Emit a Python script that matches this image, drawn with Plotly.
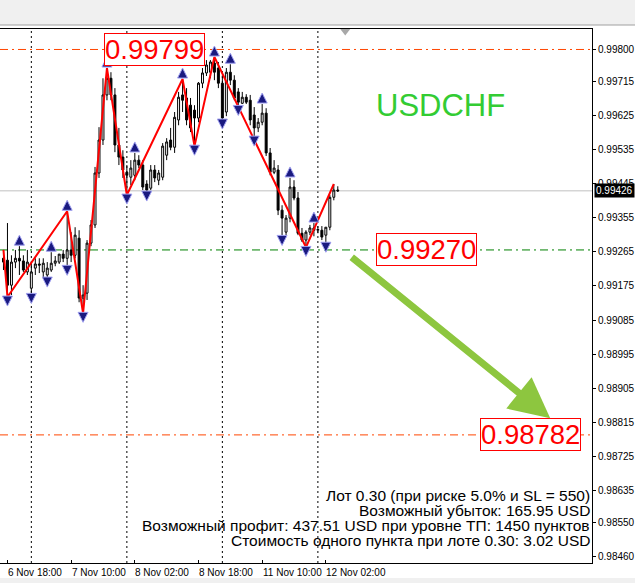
import plotly.graph_objects as go

# ---------------- data ----------------
bars = list(range(85))  # H1 bars from 6 Nov 17:00 to 12 Nov 05:00

open_ = [0.99248,0.99243,0.99177,0.99238,0.99248,0.99241,0.99212,0.99169,0.99222,0.99233,
         0.99212,0.99204,0.99217,0.99235,0.99238,0.99259,0.99248,0.99270,0.99256,0.99301,
         0.99143,0.99156,0.99288,0.99336,0.99473,0.99560,0.99679,0.99723,0.99679,0.99547,
         0.99515,0.99475,0.99462,0.99467,0.99507,0.99494,0.99444,0.99433,0.99481,0.99454,
         0.99462,0.99520,0.99560,0.99541,0.99613,0.99679,0.99671,0.99652,0.99639,0.99618,
         0.99710,0.99737,0.99739,0.99763,0.99750,0.99710,0.99634,0.99739,0.99718,0.99687,
         0.99657,0.99673,0.99665,0.99626,0.99592,0.99607,0.99631,0.99526,0.99475,0.99481,
         0.99375,0.99317,0.99354,0.99436,0.99407,0.99314,0.99296,0.99317,0.99328,0.99322,
         0.99322,0.99309,0.99330,0.99409,0.99428]
high = [0.99270,0.99341,0.99256,0.99270,0.99280,0.99256,0.99270,0.99238,0.99248,0.99248,
        0.99248,0.99238,0.99264,0.99254,0.99259,0.99270,0.99372,0.99317,0.99330,0.99322,
        0.99177,0.99296,0.99349,0.99489,0.99594,0.99723,0.99750,0.99739,0.99697,0.99592,
        0.99533,0.99494,0.99507,0.99526,0.99520,0.99507,0.99454,0.99494,0.99494,0.99481,
        0.99552,0.99565,0.99592,0.99634,0.99687,0.99721,0.99697,0.99671,0.99652,0.99713,
        0.99750,0.99771,0.99771,0.99779,0.99766,0.99731,0.99750,0.99760,0.99731,0.99697,
        0.99687,0.99681,0.99679,0.99647,0.99618,0.99655,0.99644,0.99539,0.99507,0.99494,
        0.99388,0.99362,0.99460,0.99454,0.99423,0.99328,0.99322,0.99336,0.99341,0.99333,
        0.99333,0.99330,0.99415,0.99444,0.99438]
low = [0.99217,0.99146,0.99151,0.99222,0.99204,0.99212,0.99204,0.99153,0.99204,0.99209,
       0.99198,0.99196,0.99212,0.99227,0.99233,0.99238,0.99227,0.99238,0.99248,0.99132,
       0.99103,0.99138,0.99280,0.99328,0.99460,0.99547,0.99665,0.99665,0.99528,0.99494,
       0.99460,0.99415,0.99441,0.99454,0.99486,0.99428,0.99423,0.99428,0.99449,0.99441,
       0.99454,0.99507,0.99533,0.99526,0.99599,0.99634,0.99599,0.99581,0.99544,0.99607,
       0.99697,0.99729,0.99723,0.99718,0.99697,0.99613,0.99623,0.99705,0.99665,0.99649,
       0.99655,0.99655,0.99599,0.99568,0.99581,0.99599,0.99518,0.99467,0.99470,0.99362,
       0.99306,0.99309,0.99343,0.99401,0.99309,0.99291,0.99277,0.99309,0.99306,0.99314,
       0.99296,0.99288,0.99322,0.99401,0.99423]
close = [0.99238,0.99177,0.99238,0.99248,0.99241,0.99217,0.99238,0.99212,0.99233,0.99230,
         0.99235,0.99222,0.99235,0.99241,0.99259,0.99248,0.99270,0.99256,0.99309,0.99143,
         0.99151,0.99288,0.99336,0.99473,0.99560,0.99679,0.99723,0.99679,0.99547,0.99515,
         0.99481,0.99467,0.99486,0.99507,0.99494,0.99436,0.99428,0.99481,0.99460,0.99473,
         0.99544,0.99555,0.99541,0.99620,0.99673,0.99665,0.99613,0.99592,0.99618,0.99710,
         0.99737,0.99758,0.99766,0.99739,0.99710,0.99618,0.99739,0.99718,0.99671,0.99660,
         0.99673,0.99660,0.99613,0.99592,0.99607,0.99631,0.99526,0.99475,0.99486,0.99375,
         0.99354,0.99354,0.99436,0.99407,0.99314,0.99296,0.99317,0.99328,0.99322,0.99324,
         0.99304,0.99330,0.99409,0.99428,0.99426]

zz_bars = [0, 1, 16, 20, 26, 31, 45, 48, 53, 76, 83]
zz_prices = [0.99270, 0.99146, 0.99372, 0.99103, 0.99750, 0.99415, 0.99721, 0.99544, 0.99779, 0.99277, 0.99444]

frac_up_bars = [4, 12, 16, 26, 33, 45, 53, 57, 65, 72, 78]
frac_dn_bars = [1, 7, 11, 16, 20, 31, 36, 48, 55, 59, 63, 70, 76, 81]

tick_bars = [1, 17, 33, 49, 65, 81]
tick_text = ["6 Nov 18:00", "7 Nov 10:00", "8 Nov 02:00", "8 Nov 18:00", "11 Nov 10:00", "12 Nov 02:00"]
day_sep_bars = [7, 31, 55, 79]

price_ticks = [0.99800, 0.99715, 0.99625, 0.99535, 0.99445, 0.99355, 0.99265, 0.99175,
               0.99085, 0.98995, 0.98905, 0.98815, 0.98725, 0.98635, 0.98550, 0.98460]

level_high = 0.99799
level_entry = 0.99270
level_target = 0.98782
bid = 0.99426
symbol = "USDCHF"
info_lines = ["Лот 0.30 (при риске 5.0% и SL = 550)",
              "Возможный убыток: 165.95 USD",
              "Возможный профит: 437.51 USD при уровне ТП: 1450 пунктов",
              "Стоимость одного пункта при лоте 0.30: 3.02 USD"]

# ---------------- layout helpers ----------------
W, H = 635, 583
MT, MB, ML, MR = 29, 20, 0, 40
PH = H - MT - MB
YMIN, YMAX = 0.98444, 0.99853
XMIN, XMAX = -0.875, 147.875
FONT = "Liberation Sans, Arial, sans-serif"

def py(px):
    return (H - MB - px) / PH

def px_to_bar(px):
    return (px - 3.5) / 4.0

fig = go.Figure()

fig.add_trace(go.Candlestick(
    x=bars, open=open_, high=high, low=low, close=close,
    increasing=dict(line=dict(color="black", width=1), fillcolor="white"),
    decreasing=dict(line=dict(color="black", width=1), fillcolor="black"),
    whiskerwidth=0, showlegend=False, hoverinfo="skip"))

fig.add_trace(go.Scatter(x=zz_bars, y=zz_prices, mode="lines",
                         line=dict(color="#ff0000", width=2), showlegend=False, hoverinfo="skip"))

up_off = 0.00029
dn_off = 0.00024
fig.add_trace(go.Scatter(
    x=frac_up_bars, y=[high[k] + up_off for k in frac_up_bars], mode="markers",
    marker=dict(symbol="arrow-up", size=10, color="#1a1a80", line=dict(color="#a0a0f0", width=1)),
    showlegend=False, hoverinfo="skip"))
fig.add_trace(go.Scatter(
    x=frac_dn_bars, y=[low[k] - dn_off for k in frac_dn_bars], mode="markers",
    marker=dict(symbol="arrow-down", size=10, color="#1a1a80", line=dict(color="#a0a0f0", width=1)),
    showlegend=False, hoverinfo="skip"))

fig.add_trace(go.Scatter(x=[px_to_bar(347)], y=[YMAX - 0.00005], mode="markers",
                         marker=dict(symbol="triangle-down", size=9, color="#a8a8a8"),
                         cliponaxis=False, showlegend=False, hoverinfo="skip"))

shapes = []
XR = W / (W - MR) + 0.01
shapes.append(dict(type="rect", xref="paper", yref="paper", x0=-0.01, x1=XR,
                   y0=py(25), y1=py(-1), fillcolor="#f0f0f0", line=dict(width=0), layer="below"))
shapes.append(dict(type="line", xref="paper", yref="paper", x0=-0.01, x1=XR,
                   y0=py(25), y1=py(25), line=dict(color="#a0a0a0", width=1)))
shapes.append(dict(type="rect", xref="paper", yref="paper", x0=-0.01, x1=XR,
                   y0=py(584), y1=py(578), fillcolor="#f0f0f0", line=dict(width=0), layer="below"))
for b in day_sep_bars:
    shapes.append(dict(type="line", xref="x", yref="paper", x0=b, x1=b, y0=0, y1=1,
                       line=dict(color="black", width=1, dash="2px,3px"), layer="below"))
dd = "8px,4px,2px,4px"
shapes.append(dict(type="line", xref="paper", yref="y", x0=0, x1=1, y0=bid, y1=bid,
                   line=dict(color="#c0c0c0", width=1), layer="below"))
shapes.append(dict(type="line", xref="paper", yref="y", x0=0, x1=1, y0=level_high, y1=level_high,
                   line=dict(color="#ff4500", width=1, dash=dd), layer="below"))
shapes.append(dict(type="line", xref="paper", yref="y", x0=0, x1=1, y0=level_entry, y1=level_entry,
                   line=dict(color="#008000", width=1, dash=dd), layer="below"))
shapes.append(dict(type="line", xref="paper", yref="y", x0=0, x1=1, y0=level_target, y1=level_target,
                   line=dict(color="#ff4500", width=1, dash=dd), layer="below"))

annotations = []
for xpx, val in [(105, level_high), (378, level_entry), (482, level_target)]:
    annotations.append(dict(x=px_to_bar(xpx), y=val, xref="x", yref="y", text=f"{val:.5f}",
                            showarrow=False, xanchor="left", yanchor="middle",
                            font=dict(family=FONT, size=27.5, color="#ff0000"),
                            bgcolor="white", bordercolor="#ff0000", borderwidth=1, borderpad=0))
annotations.append(dict(x=px_to_bar(376), y=0.99652, xref="x", yref="y", text=symbol,
                        showarrow=False, xanchor="left", yanchor="middle",
                        font=dict(family=FONT, size=31, color="#33cc33")))
annotations.append(dict(x=px_to_bar(553), y=0.98826, ax=px_to_bar(352), ay=0.99254,
                        xref="x", yref="y", axref="x", ayref="y", text="", showarrow=True,
                        arrowhead=2, arrowsize=1.15, arrowwidth=7, arrowcolor="#8dc63f"))
for i, t in enumerate(info_lines):
    annotations.append(dict(x=590 / (W - MR), y=py(495 + 15 * i), xref="paper", yref="paper",
                            text=t, showarrow=False, xanchor="right", yanchor="middle", xshift=5,
                            font=dict(family=FONT, size=15.5, color="black")))
annotations.append(dict(x=1, y=bid, xref="paper", yref="y", text="0.99426", showarrow=False,
                        xanchor="left", yanchor="middle", xshift=2,
                        font=dict(family=FONT, size=10, color="white"),
                        bgcolor="black", borderpad=1))
for b, t in zip(tick_bars, tick_text):
    annotations.append(dict(x=b - 0.35, y=0, xref="x", yref="paper", text=t, showarrow=False,
                            xanchor="left", yanchor="top", yshift=-2,
                            font=dict(family=FONT, size=10, color="black")))

fig.update_layout(
    width=W, height=H, margin=dict(l=ML, r=MR, t=MT, b=MB),
    paper_bgcolor="white", plot_bgcolor="white",
    shapes=shapes, annotations=annotations, showlegend=False,
    xaxis=dict(range=[XMIN, XMAX], showgrid=False, zeroline=False, showline=True, mirror=True,
               linecolor="black", linewidth=1, ticks="inside", ticklen=3, tickcolor="black",
               tickvals=tick_bars, showticklabels=False, rangeslider=dict(visible=False),
               fixedrange=True),
    yaxis=dict(range=[YMIN, YMAX], side="right", showgrid=False, zeroline=False, showline=True,
               linecolor="black", linewidth=1, ticks="outside", ticklen=3, tickcolor="black",
               tickvals=price_ticks, ticktext=[f"{v:.5f}" for v in price_ticks],
               tickfont=dict(family=FONT, size=10, color="black"), fixedrange=True),
)

fig.write_html("out.html", config={"displayModeBar": False},
               post_script="document.body.style.margin='0';document.body.style.overflow='hidden';")
